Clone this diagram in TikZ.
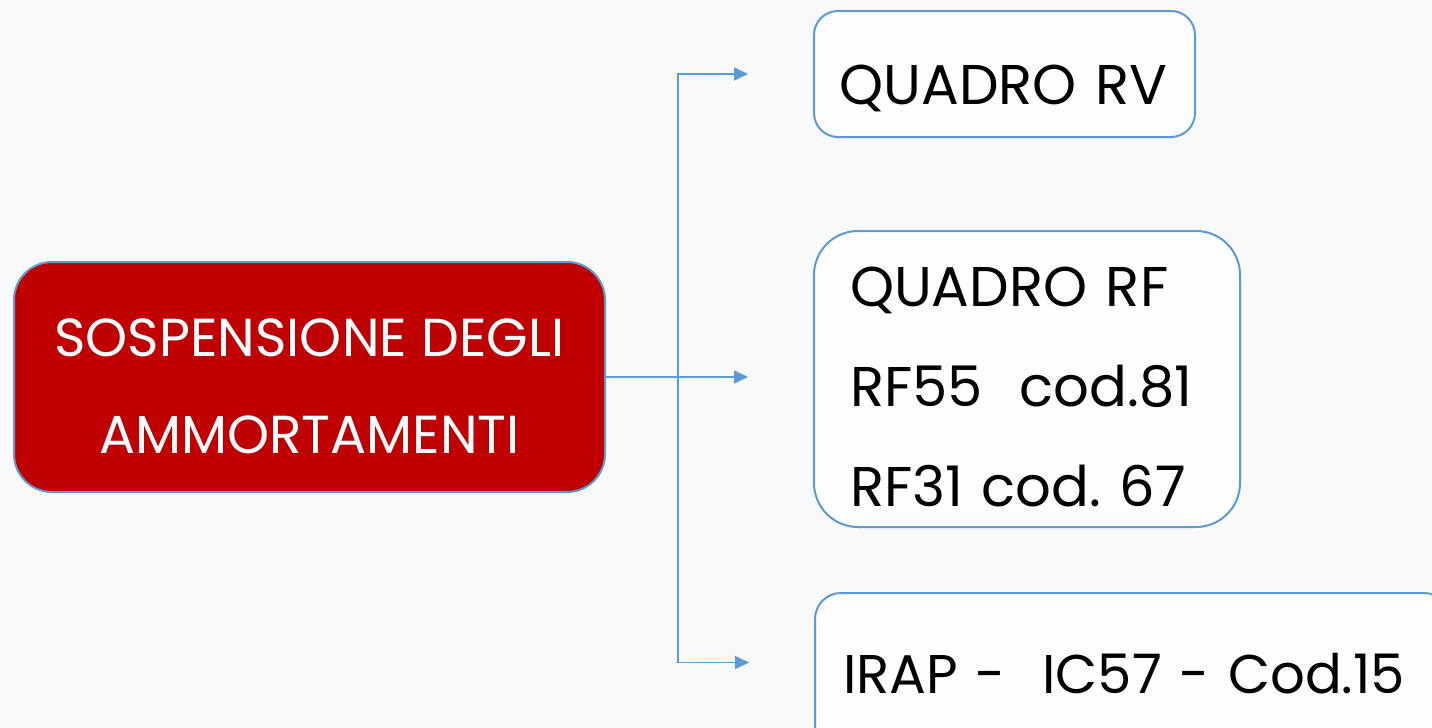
\documentclass[tikz,border=0pt]{standalone}
\usepackage{fontspec}
\setmainfont{Poppins}
\frenchspacing
\usetikzlibrary{arrows.meta}
\definecolor{linkblue}{RGB}{91,155,213}
\definecolor{boxred}{RGB}{192,0,0}
\definecolor{bgcol}{RGB}{248,249,251}
\definecolor{boxfill}{RGB}{253,253,255}
\begin{document}
\begin{tikzpicture}[x=1pt,y=-1pt,>={Triangle[length=14pt,width=13pt]},
	conn/.style={draw=linkblue,line width=1.6pt},
	mainbox/.style={draw=linkblue,line width=2pt,fill=boxred,text=white,rounded corners=38pt,
		minimum width=591pt,minimum height=230pt,align=center,
		font=\fontsize{53.5}{97}\selectfont},
	infobox/.style={draw=linkblue,line width=2pt,fill=boxfill,text=black,rounded corners=#1,
		align=left,font=\fontsize{56}{100}\selectfont}]
	\useasboundingbox (0,0) rectangle (1432,728);
	\clip (0,0) rectangle (1432,728);
	\fill[bgcol] (0,0) rectangle (1432,728);

	\node[mainbox] (main) at (309.5,377) {\rule{0pt}{57pt}SOSPENSIONE DEGLI\\AMMORTAMENTI};
	\node[infobox=24pt,minimum width=381pt,minimum height=126pt,text width=330pt,inner xsep=25.5pt,
		text height=60pt,text depth=0pt] (rv) at (1004.5,74) {QUADRO RV};
	\node[infobox=44pt,minimum width=426pt,minimum height=296pt,text width=354pt,inner xsep=36pt] (rf) at (1027,379)
		{\rule{0pt}{56pt}QUADRO RF\\RF55\ \ cod.81\\RF31 cod. 67};
	\node[infobox=26pt,minimum width=635pt,minimum height=167pt,text width=579pt,inner xsep=28pt,
		text height=45pt,text depth=12pt,font=\fontsize{54.5}{100}\selectfont] (irap) at (1132.5,676.5) {IRAP -\ \ IC57 - Cod.15};

	\coordinate (fork) at (678,377);
	\draw[conn] (main.east) -- (fork);
	\draw[conn,->,shorten >=65pt] (fork) |- (rv.west);
	\draw[conn,->,shorten >=65pt] (fork) -- (fork -| rf.west);
	\draw[conn,->,shorten >=65pt] (fork) |- ([yshift=14pt]irap.west);
\end{tikzpicture}
\end{document}
